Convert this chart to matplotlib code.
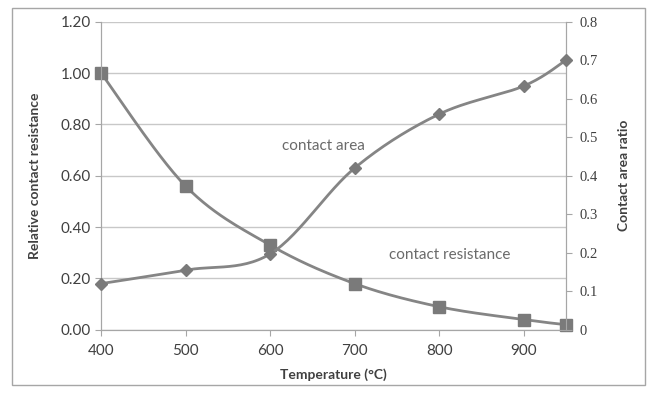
import matplotlib.pyplot as plt
import numpy as np
from matplotlib.patches import Rectangle

# Data
temperature = [400, 500, 600, 700, 800, 900, 950]
resistance = [1.00, 0.56, 0.33, 0.18, 0.09, 0.04, 0.02]
area_ratio = [0.12, 0.155, 0.197, 0.42, 0.56, 0.633, 0.70]

x_ticks = [400, 500, 600, 700, 800, 900]
left_ticks = [0.0, 0.2, 0.4, 0.6, 0.8, 1.0, 1.2]
right_ticks = [0, 0.1, 0.2, 0.3, 0.4, 0.5, 0.6, 0.7, 0.8]


# Excel-style smoothed line (Bezier through the points)
def smooth(xs, ys, n=30):
    xs = np.asarray(xs, float)
    ys = np.asarray(ys, float)
    px, py = [], []
    for i in range(len(xs) - 1):
        x0, y0 = xs[max(i - 1, 0)], ys[max(i - 1, 0)]
        x1, y1 = xs[i], ys[i]
        x2, y2 = xs[i + 1], ys[i + 1]
        x3, y3 = xs[min(i + 2, len(xs) - 1)], ys[min(i + 2, len(xs) - 1)]
        c1x, c1y = x1 + (x2 - x0) / 6, y1 + (y2 - y0) / 6
        c2x, c2y = x2 - (x3 - x1) / 6, y2 - (y3 - y1) / 6
        t = np.linspace(0, 1, n)
        px.extend((1-t)**3*x1 + 3*(1-t)**2*t*c1x + 3*(1-t)*t**2*c2x + t**3*x2)
        py.extend((1-t)**3*y1 + 3*(1-t)**2*t*c1y + 3*(1-t)*t**2*c2y + t**3*y2)
    return px, py


plt.rcParams['font.family'] = ['Lato', 'DejaVu Sans']
line_col = '#858585'
mark_col = '#7a7a7a'
text_col = '#404040'
grid_col = '#c8c8c8'

fig = plt.figure(figsize=(6.52, 3.95), dpi=100)
ax = fig.add_axes([0.155, 0.165, 0.713, 0.78])
ax2 = ax.twinx()

# Resistance (left axis)
sx, sy = smooth(temperature, resistance)
ax.plot(sx, sy, color=line_col, linewidth=2, zorder=3)
ax.plot(temperature, resistance, linestyle='none', marker='s', markersize=8,
        color=mark_col, zorder=4, clip_on=False)

# Contact area (right axis)
sx, sy = smooth(temperature, area_ratio)
ax2.plot(sx, sy, color=line_col, linewidth=2, zorder=3)
ax2.plot(temperature, area_ratio, linestyle='none', marker='D', markersize=6,
         color=mark_col, zorder=4, clip_on=False)

ax.set_xlim(400, 950)
ax.set_ylim(0, 1.2)
ax2.set_ylim(0, 0.8)
ax.set_xticks(x_ticks)
ax.set_yticks(left_ticks)
ax.set_yticklabels(['%.2f' % v for v in left_ticks])
ax2.set_yticks(right_ticks)
ax2.set_yticklabels([('%g' % v) for v in right_ticks], family='Liberation Serif')

ax.yaxis.grid(True, color=grid_col, linewidth=1)
ax.set_axisbelow(True)

for a in (ax, ax2):
    for s in a.spines.values():
        s.set_color('#a6a6a6')
    a.spines['top'].set_visible(False)
ax.tick_params(axis='both', colors='#a6a6a6', labelcolor=text_col, labelsize=11, length=4)
ax.tick_params(axis='x', pad=6)
ax2.tick_params(axis='y', colors='#a6a6a6', labelcolor=text_col, labelsize=10.5, length=4, pad=6)

ax.set_xlabel('Temperature (°C)', fontsize=10, fontweight='bold', color=text_col, labelpad=8)
ax.set_ylabel('Relative contact resistance', fontsize=10, fontweight='bold', color=text_col, labelpad=14)
ax2.set_ylabel('Contact area ratio', fontsize=10, fontweight='bold', color=text_col, labelpad=14)

ax.text(663, 0.717, 'contact area', fontsize=11, color='#6a6a6a', ha='center', va='center')
ax.text(813, 0.292, 'contact resistance', fontsize=11, color='#6a6a6a', ha='center', va='center')

fig.patches.append(Rectangle((0.018, 0.025), 0.972, 0.955, transform=fig.transFigure,
                             fill=False, edgecolor='#a6a6a6', linewidth=1))

fig.savefig('out.png', dpi=100)
